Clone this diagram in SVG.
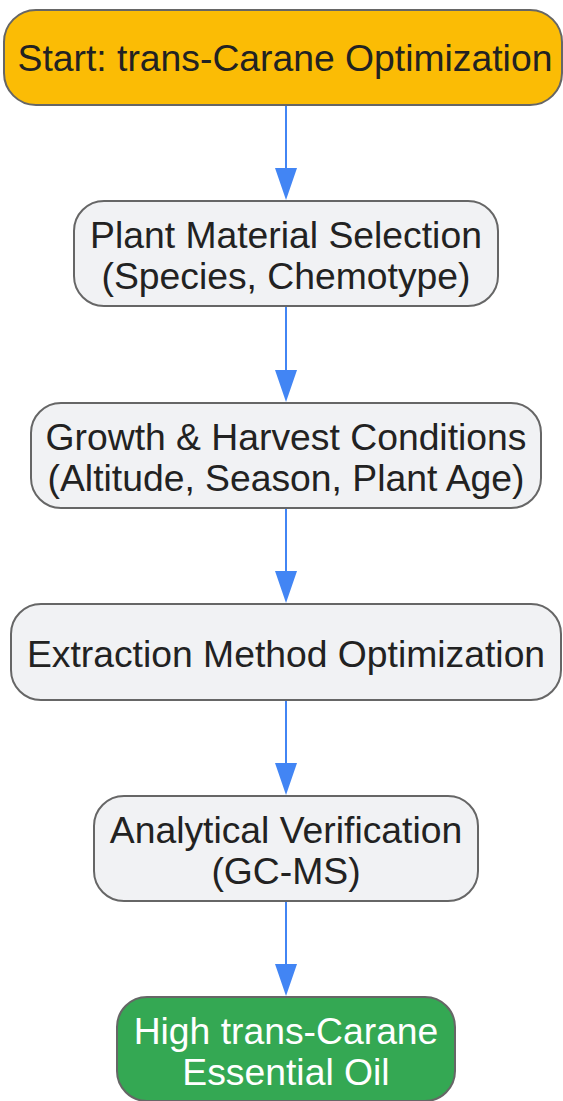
<svg xmlns="http://www.w3.org/2000/svg" width="563" height="1101" viewBox="0 0 563 1101">
<style>
.n{stroke:#666;stroke-width:2}
.g{fill:#f1f2f4}
.t{font-family:"Liberation Sans",Arial,sans-serif;font-size:37.3px;fill:#222;text-anchor:middle}
.w{fill:#fff}
.e{stroke:#4285f4;stroke-width:2;fill:none}
.h{fill:#4285f4}
</style>
<rect width="563" height="1101" fill="#fff"/>
<g id="edges">
<line class="e" x1="286" y1="105" x2="286" y2="170"/>
<path class="h" d="M275,168 L297,168 L286,200 Z"/>
<line class="e" x1="286" y1="306" x2="286" y2="372"/>
<path class="h" d="M275,370 L297,370 L286,402 Z"/>
<line class="e" x1="286" y1="508" x2="286" y2="573"/>
<path class="h" d="M275,571 L297,571 L286,603 Z"/>
<line class="e" x1="286" y1="700" x2="286" y2="765"/>
<path class="h" d="M275,763 L297,763 L286,795 Z"/>
<line class="e" x1="286" y1="901" x2="286" y2="966"/>
<path class="h" d="M275,964 L297,964 L286,996 Z"/>
</g>
<g id="start">
<rect class="n" x="4" y="10" width="558" height="95" rx="32" fill="#fbbc05"/>
<text class="t" x="285" y="71">Start: trans-Carane Optimization</text>
</g>
<g id="plant">
<rect class="n g" x="74" y="201" width="424" height="105" rx="30"/>
<text class="t" x="286" y="248">Plant Material Selection</text>
<text class="t" x="286" y="289">(Species, Chemotype)</text>
</g>
<g id="growth">
<rect class="n g" x="31" y="403" width="510" height="105" rx="30"/>
<text class="t" x="286" y="450">Growth &amp; Harvest Conditions</text>
<text class="t" x="286" y="491">(Altitude, Season, Plant Age)</text>
</g>
<g id="extraction">
<rect class="n g" x="11" y="604" width="550" height="96" rx="30"/>
<text class="t" x="286" y="667">Extraction Method Optimization</text>
</g>
<g id="analytical">
<rect class="n g" x="94" y="796" width="384" height="105" rx="30"/>
<text class="t" x="286" y="843">Analytical Verification</text>
<text class="t" x="286" y="884">(GC-MS)</text>
</g>
<g id="result">
<rect class="n" x="117" y="997" width="338" height="104" rx="30" fill="#34a853"/>
<text class="t w" x="286" y="1044">High trans-Carane</text>
<text class="t w" x="286" y="1085">Essential Oil</text>
</g>
</svg>
